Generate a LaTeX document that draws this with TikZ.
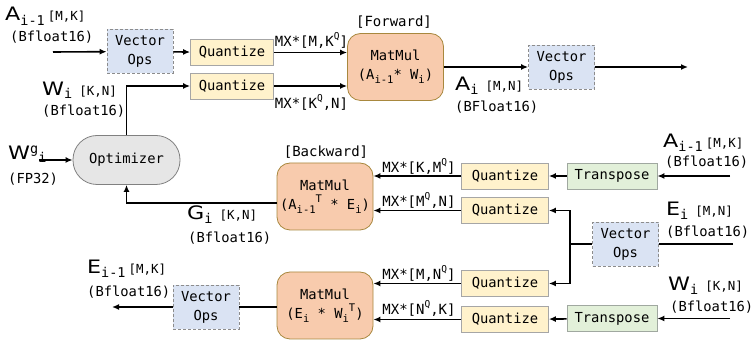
\documentclass[tikz,border=0pt]{standalone}
\usepackage{fontspec}
\setmonofont{DejaVu Sans Mono}
\newfontfamily\bigfam[FakeStretch=1.2]{DejaVu Sans}
\usetikzlibrary{arrows.meta}
\definecolor{vecfill}{HTML}{DAE3F3}
\definecolor{vecdraw}{HTML}{8C8C8C}
\definecolor{qfill}{HTML}{FFF2CC}
\definecolor{qdraw}{HTML}{A6A6A6}
\definecolor{mmfill}{HTML}{F8CBAD}
\definecolor{mmdraw}{HTML}{A8883E}
\definecolor{tfill}{HTML}{E2F0D9}
\definecolor{tdraw}{HTML}{A0A8A0}
\definecolor{ofill}{HTML}{E6E6E6}
\definecolor{odraw}{HTML}{808080}
\newcommand\fBox{\fontsize{13.8}{19}\selectfont\ttfamily}
\newcommand\fLab{\fontsize{14}{16}\selectfont\ttfamily}
\newcommand\fSm{\fontsize{12.5}{13}\selectfont\ttfamily}
\newcommand\fBig{\fontsize{18.5}{20}\selectfont\bigfam}
\newcommand\lowtxt[1]{\raisebox{-0.3em}{\fontsize{10.5}{10}\selectfont\ttfamily #1}}
\newcommand\hightxt[1]{\raisebox{0.5em}{\fontsize{10.5}{10}\selectfont\ttfamily #1}}
\newcommand\supq[1]{\raisebox{0.5em}{\fontsize{9.5}{10}\selectfont\ttfamily #1}}
\newcommand\BL[4]{{\fBig #1}\raisebox{-#4}{\fontsize{13.5}{13}\selectfont\ttfamily #2}\hspace{3pt}{\fSm #3}}
\begin{document}
\begin{tikzpicture}[x=1pt,y=-1pt,
  bx/.style={draw, inner sep=0pt, align=center, font=\fBox, line width=0.8pt},
  vop/.style={bx, dash pattern=on 3pt off 2pt, draw=vecdraw, fill=vecfill, minimum width=66pt, minimum height=44pt},
  quant/.style={bx, draw=qdraw, fill=qfill, minimum width=83pt, minimum height=26pt},
  quantb/.style={quant, minimum width=87pt},
  trans/.style={bx, draw=tdraw, fill=tfill, minimum width=90pt, minimum height=26pt},
  mm/.style={bx, draw=mmdraw, fill=mmfill, rounded corners=13pt, minimum width=96pt, minimum height=67pt},
  opt/.style={bx, draw=odraw, fill=ofill, rounded corners=24pt, minimum width=107pt, minimum height=49pt},
  arr/.style={-{Latex[length=7pt,width=6pt]}, line width=1.6pt},
  ln/.style={line width=1.6pt},
  lab/.style={inner sep=0pt, font=\fLab},
  txt/.style={inner sep=0pt, font=\fBox, anchor=west},
  big/.style={inner sep=0pt, anchor=base west}]
\useasboundingbox (0,0) rectangle (756,344);
% ---------------- Forward ----------------
\node[vop] (v1) at (140,51.5) {Vector\\Ops};
\node[quant] (q1) at (232,52.5) {Quantize};
\node[quant] (q2) at (232,86) {Quantize};
\node[mm] (m1) at (395.5,67) {MatMul\\(A\lowtxt{i-1}* W\lowtxt{i})};
\node[vop] (v2) at (561.5,67) {Vector\\Ops};
\node[lab] (fw) at (394,22) {[Forward]};
\node[lab] (l1) at (311.5,40) {MX*[M,K\supq{Q}]};
\node[lab] (l2) at (311.5,102) {MX*[K\supq{Q},N]};
\node[big] (ta) at (5,21) {\BL{A}{i-1}{[M,K]}{5pt}};
\node[txt] (tab) at (10,37) {(Bfloat16)};
\node[big] (tw) at (42,95.5) {\BL{W}{i}{\hspace{4pt}[K,N]}{3.5pt}};
\node[txt] (twb) at (42,111) {(Bfloat16)};
\node[big] (tai) at (455,91) {\BL{A}{i}{\hspace{4pt}[M,N]}{3.5pt}};
\node[txt] (taib) at (455,107) {(BFloat16)};
\coordinate (ain0) at (53,52);
\coordinate (fout) at (688,67);
\draw[arr] (ain0) -- (v1);
\draw[arr] (v1) -- (q1);
\draw[arr] (q1.east) -- (q1.east -| m1.west);
\draw[arr] (q2.east) -- (q2.east -| m1.west);
\draw[arr] (m1.east) -- (v2.west);
\draw[arr] (v2.east) -- (fout);
% ---------------- Optimizer ----------------
\node[opt] (opt) at (126.5,160) {Optimizer};
\node[big] (twg) at (8,160) {{\fBig W}\raisebox{6pt}{\fontsize{13.5}{13}\selectfont\ttfamily g}\raisebox{-3pt}{\fontsize{13.5}{13}\selectfont\ttfamily i}};
\node[txt] (fp) at (8,179) {(FP32)};
\coordinate (wgs) at (39,160);
\draw[arr] (wgs) -- (opt.west);
\draw[arr] (opt.north) |- (q2.west);
% ---------------- Backward ----------------
\node[mm] (m2) at (325,196.5) {MatMul\\(A\lowtxt{i-1}\hightxt{T} * E\lowtxt{i})};
\node[lab] (bw) at (326,152) {[Backward]};
\node[quantb] (q3) at (505,176) {Quantize};
\node[quantb] (q4) at (505,210.5) {Quantize};
\node[trans] (t1) at (612,176) {Transpose};
\node[vop] (v3) at (625.5,244) {Vector\\Ops};
\node[lab] (l3) at (419,166) {MX*[K,M\supq{Q}]};
\node[lab] (l4) at (419,200) {MX*[M\supq{Q},N]};
\node[big] (tg) at (187,220) {\BL{G}{i}{\hspace{4pt}[K,N]}{3.5pt}};
\node[txt] (tgb) at (188,238) {(Bfloat16)};
\node[big] (ta2) at (663,148) {\BL{A}{i-1}{[M,K]}{4pt}};
\node[txt] (ta2b) at (665,162.5) {(Bfloat16)};
\node[big] (te) at (666,216) {\BL{E}{i}{\hspace{4pt}[M,N]}{3.5pt}};
\node[txt] (teb) at (666,232) {(Bfloat16)};
\coordinate (ain1) at (730,176);
\coordinate (ein) at (733,244);
\coordinate (jn) at (570,244);
\draw[arr] (ain1) -- (t1);
\draw[arr] (t1) -- (q3);
\draw[arr] (q3.west) -- (q3.west -| m2.east);
\draw[arr] (q4.west) -- (q4.west -| m2.east);
\draw[ln] (ein) -- (v3.east);
\draw[ln] (v3.west) -- (jn);
\draw[arr] ([yshift=-6.5pt]m2.west) -| (opt.south);
% ---------------- Bottom ----------------
\node[mm] (m3) at (325,305.5) {MatMul\\(E\lowtxt{i} * W\lowtxt{i}\hightxt{T})};
\node[quantb] (q5) at (505,283.5) {Quantize};
\node[quantb] (q6) at (505,319.5) {Quantize};
\node[trans] (t2) at (612,318.5) {Transpose};
\node[vop] (v4) at (206,307) {Vector\\Ops};
\node[lab] (l5) at (419,273) {MX*[M,N\supq{Q}]};
\node[lab] (l6) at (419,308) {MX*[N\supq{Q},K]};
\node[big] (tw2) at (668,291) {\BL{W}{i}{\hspace{4pt}[K,N]}{3.5pt}};
\node[txt] (tw2b) at (670,307) {(Bfloat16)};
\node[big] (te1) at (87,274) {\BL{E}{i-1}{[M,K]}{4pt}};
\node[txt] (te1b) at (87,292) {(Bfloat16)};
\coordinate (win) at (730,318.5);
\coordinate (eout) at (112,307);
\draw[arr] (jn) |- (q4.east);
\draw[arr] (jn) |- (q5.east);
\draw[arr] (q5.west) -- (q5.west -| m3.east);
\draw[arr] (q6.west) -- (q6.west -| m3.east);
\draw[arr] (win) -- (t2);
\draw[arr] (t2) -- (q6);
\draw[ln] (m3.west |- v4.east) -- (v4.east);
\draw[arr] (v4.west) -- (eout);
\end{tikzpicture}
\end{document}
